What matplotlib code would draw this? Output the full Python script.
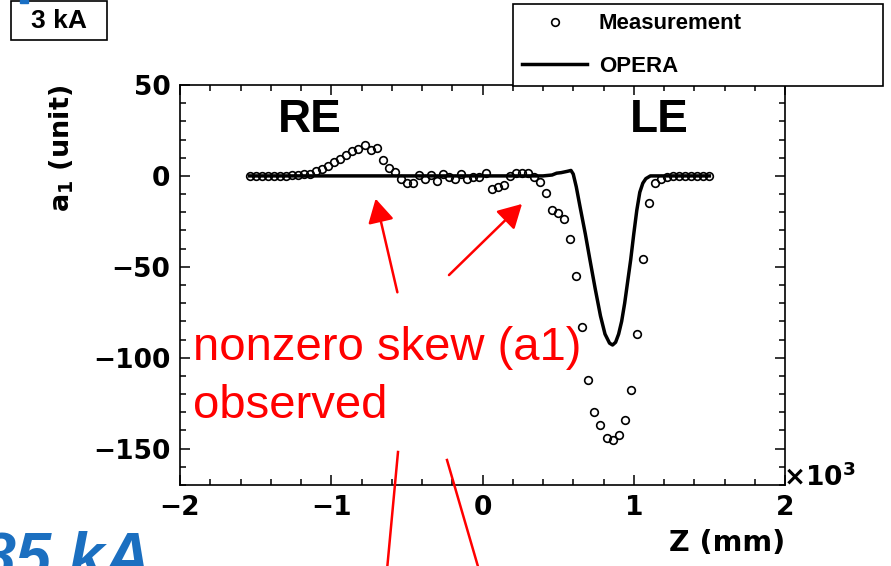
import matplotlib
matplotlib.use('Agg')
import matplotlib.pyplot as plt
from matplotlib.ticker import MultipleLocator, FuncFormatter
from matplotlib.lines import Line2D
from matplotlib.patches import Rectangle, FancyArrowPatch

plt.rcParams['font.family'] = ['Liberation Sans', 'DejaVu Sans']
plt.rcParams['mathtext.fontset'] = 'custom'
plt.rcParams['mathtext.rm'] = 'DejaVu Sans:bold'
plt.rcParams['mathtext.default'] = 'rm'

# measured skew harmonic a1 along the magnet axis
meas_z = [-1540, -1500, -1460, -1420, -1380, -1340, -1300, -1260, -1220, -1180,
          -1140, -1100, -1060, -1020, -980, -940, -900, -860, -820, -780,
          -740, -700, -660, -620, -580, -540, -500, -460, -420, -380,
          -340, -300, -260, -220, -180, -140, -100, -60, -20, 20,
          60, 100, 140, 180, 220, 260, 300, 340, 380, 420,
          460, 500, 540, 580, 620, 660, 700, 740, 780, 820,
          860, 900, 940, 980, 1020, 1060, 1100, 1140, 1180, 1220,
          1260, 1300, 1340, 1380, 1420, 1460, 1500]
meas_a1 = [0, 0, 0, 0, 0, 0, 0.2, 0.5, 0.7, 0.8,
           0.8, 2.5, 4, 5.5, 7.5, 9.5, 11.5, 13.5, 15, 17,
           14.5, 15.5, 8.5, 4.5, 2, -1.8, -3.7, -3.7, 0.4, -1.8,
           0.4, -2.8, 0.9, -0.4, -1.5, 1.3, -1.5, -0.4, -0.4, 1.5,
           -7, -6, -5, 0, 1.5, 1.8, 1.8, -0.4, -3.5, -9.5,
           -18.5, -20.5, -23.5, -34.5, -55, -83, -112, -130, -137, -144,
           -145, -142.5, -134, -118, -87, -45.5, -15, -3.7, -1.5, -0.5,
           0, 0, 0, 0, 0, 0, 0]

# OPERA simulation
opera_z = [-1540, -1000, -500, 0, 400, 460, 490, 520, 560, 585,
           600, 620, 645, 680, 710, 745, 780, 810, 840, 860,
           880, 900, 920, 940, 960, 980, 1000, 1020, 1040, 1060,
           1080, 1110, 1200, 1500]
opera_a1 = [0, 0, 0, 0, 0, 0.5, 1.5, 1.8, 2.5, 3,
            1, -6, -17, -32, -46, -62, -77, -87, -92, -93,
            -91.5, -87, -80, -70, -58, -46, -32, -19, -9, -4,
            -1.5, 0, 0, 0]

W, H = 891, 566
fig = plt.figure(figsize=(W / 100, H / 100), dpi=100)
ax = fig.add_axes([180 / W, 1 - 485 / H, 605 / W, 400 / H])

ax.plot(opera_z, opera_a1, color='black', lw=2.5, label='OPERA', zorder=2)
ax.plot(meas_z, meas_a1, ls='none', marker='o', ms=5.5, mfc='none', mec='black',
        mew=1.2, label='Measurement', zorder=3)

ax.set_xlim(-2000, 2000)
ax.set_ylim(-170, 50)
ax.xaxis.set_major_locator(MultipleLocator(1000))
ax.xaxis.set_minor_locator(MultipleLocator(200))
ax.yaxis.set_major_locator(MultipleLocator(50))
ax.yaxis.set_minor_locator(MultipleLocator(10))
ax.xaxis.set_major_formatter(FuncFormatter(lambda v, _: f'{v / 1000:g}'.replace('-', '\u2212')))
ax.yaxis.set_major_formatter(FuncFormatter(lambda v, _: f'{v:g}'.replace('-', '\u2212')))
ax.tick_params(which='both', direction='in', top=True, right=True, width=1.1)
ax.tick_params(which='major', length=7.5, labelsize=19, pad=7)
ax.tick_params(which='minor', length=4)
for lab in ax.get_xticklabels() + ax.get_yticklabels():
    lab.set_fontweight('bold')
    lab.set_family('DejaVu Sans')
for s in ax.spines.values():
    s.set_linewidth(1.2)

ax.set_ylabel('a$_1$ (unit)', fontsize=19.5, fontweight='bold', family='DejaVu Sans',
              loc='top', labelpad=12)
ax.set_xlabel('Z (mm)', fontsize=20.5, fontweight='bold', family='DejaVu Sans',
              loc='right', labelpad=6)
fig.text(783 / W, 1 - 478 / H, '\u00d710$^{3}$', fontsize=19, fontweight='bold',
         family='DejaVu Sans', ha='left', va='center')

ax.text(-1140, 24, 'RE', fontsize=33, fontweight='bold', ha='center', va='baseline')
ax.text(1170, 24, 'LE', fontsize=33, fontweight='bold', ha='center', va='baseline')

# legend
handles = [Line2D([], [], ls='none', marker='o', ms=5.5, mfc='none', mec='black', mew=1.2),
           Line2D([], [], color='black', lw=2.5)]
leg = fig.legend(handles, ['Measurement', 'OPERA'], loc='upper left',
                 bbox_to_anchor=(513 / W, 1 - 83 / H, 370 / W, 79 / H), mode='expand',
                 fancybox=False, edgecolor='black', framealpha=1, borderaxespad=0,
                 prop={'weight': 'bold', 'size': 16}, handlelength=2.9,
                 handletextpad=0.55, labelspacing=0.98, borderpad=0.42)
leg.get_frame().set_linewidth(1.2)

# "3 kA" box
fig.patches.append(Rectangle((11 / W, 1 - 40 / H), 96 / W, 39 / H, transform=fig.transFigure,
                             fc='white', ec='black', lw=1.2))
fig.text(59 / W, 1 - 21 / H, '3 kA', fontsize=19, fontweight='bold', ha='center', va='center')
fig.patches.append(Rectangle((20 / W, 1 - 3 / H), 8 / W, 3 / H, transform=fig.transFigure,
                             color='#1a6fc4', zorder=5))

# red annotation
red = '#ff0000'
fig.text(193 / W, 1 - 360 / H, 'nonzero skew (a1)', color=red, fontsize=34, ha='left',
         va='baseline')
fig.text(193 / W, 1 - 418 / H, 'observed', color=red, fontsize=34, ha='left', va='baseline')
for (x0, y0), (x1, y1) in [((398, 295), (375, 196)), ((447, 277), (524, 202))]:
    fig.add_artist(FancyArrowPatch(
        (x0 / W, 1 - y0 / H), (x1 / W, 1 - y1 / H), transform=fig.transFigure,
        arrowstyle='-|>,head_length=9,head_width=5', color=red, lw=1.8, mutation_scale=1.6))
fig.add_artist(Line2D([398 / W, 387 / W], [1 - 452 / H, 1 - 570 / H], transform=fig.transFigure,
                      color=red, lw=1.8))
fig.add_artist(Line2D([447 / W, 479 / W], [1 - 460 / H, 1 - 570 / H], transform=fig.transFigure,
                      color=red, lw=1.8))

# cut-off slide title at the bottom left
fig.text(-20 / W, 1 - 577 / H, '85 kA', color='#1b6fc0', fontsize=46, fontweight='bold',
         fontstyle='italic', ha='left', va='baseline')

fig.savefig('out.png', dpi=100)
